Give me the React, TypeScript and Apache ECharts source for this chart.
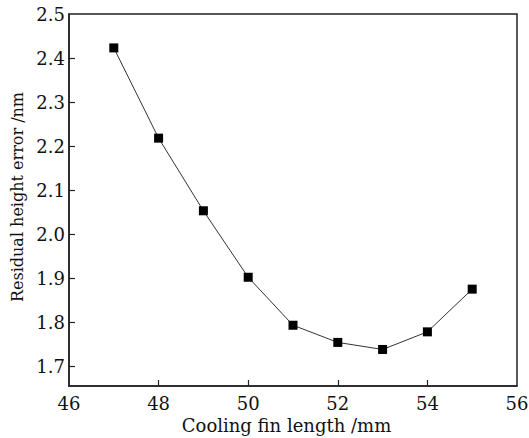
import React, { useEffect, useRef } from "react";
import * as echarts from "echarts";

const finLength = [47, 48, 49, 50, 51, 52, 53, 54, 55];
const residualError = [2.423, 2.218, 2.053, 1.902, 1.793, 1.754, 1.738, 1.778, 1.875];
const yTicks = [1.7, 1.8, 1.9, 2.0, 2.1, 2.2, 2.3, 2.4, 2.5];
const xTicks = [46, 48, 50, 52, 54, 56];

const FONT = "'DejaVu Serif', 'Liberation Serif', serif";

export default function App() {
  const ref = useRef<HTMLDivElement>(null);
  useEffect(() => {
    if (!ref.current) return;
    const chart = echarts.init(ref.current, null, { renderer: "svg" });
    chart.setOption({
      animation: false,
      backgroundColor: "#fff",
      grid: {
        left: 69,
        right: 12,
        top: 14,
        bottom: 52,
        outerBoundsMode: "none",
        containLabel: false,
        show: true,
        borderColor: "#222",
        borderWidth: 1.5,
        backgroundColor: "transparent",
      },
      xAxis: {
        type: "value",
        min: 46,
        max: 56,
        interval: 2,
        name: "Cooling fin length /mm",
        nameLocation: "middle",
        nameGap: 29,
        nameTextStyle: { fontFamily: FONT, fontSize: 18, color: "#111", padding: [0, 13, 0, 0] },
        axisLine: { show: true, lineStyle: { color: "#222", width: 1.5 } },
        axisTick: {
          show: true,
          inside: true,
          length: 6,
          lineStyle: { color: "#222", width: 1.2 },
          customValues: xTicks.slice(1, -1),
        },
        axisLabel: {
          fontFamily: FONT,
          fontSize: 18,
          color: "#111",
          margin: 8,
          customValues: xTicks,
          showMinLabel: true,
          showMaxLabel: true,
        },
        splitLine: { show: false },
      },
      yAxis: {
        type: "value",
        min: 1.655,
        max: 2.5,
        name: "Residual height error /nm",
        nameLocation: "middle",
        nameGap: 44,
        nameTextStyle: { fontFamily: FONT, fontSize: 16, color: "#111", padding: [0, 0, 0, 6] },
        axisLine: { show: true, lineStyle: { color: "#222", width: 1.5 } },
        axisTick: {
          show: true,
          inside: true,
          length: 6,
          lineStyle: { color: "#222", width: 1.2 },
          customValues: yTicks.slice(0, -1),
        },
        axisLabel: {
          fontFamily: FONT,
          fontSize: 18,
          color: "#111",
          margin: 4,
          customValues: yTicks,
          formatter: (v: number) => v.toFixed(1),
        },
        splitLine: { show: false },
      },
      series: [
        {
          type: "line",
          data: finLength.map((x, i) => [x, residualError[i]]),
          symbol: "rect",
          symbolSize: 9,
          itemStyle: { color: "#000" },
          lineStyle: { color: "#333", width: 1 },
        },
      ],
    });
    return () => chart.dispose();
  }, []);
  return (
    <div
      ref={ref}
      style={{ position: "fixed", left: 0, top: 0, width: 529, height: 438 }}
    />
  );
}
